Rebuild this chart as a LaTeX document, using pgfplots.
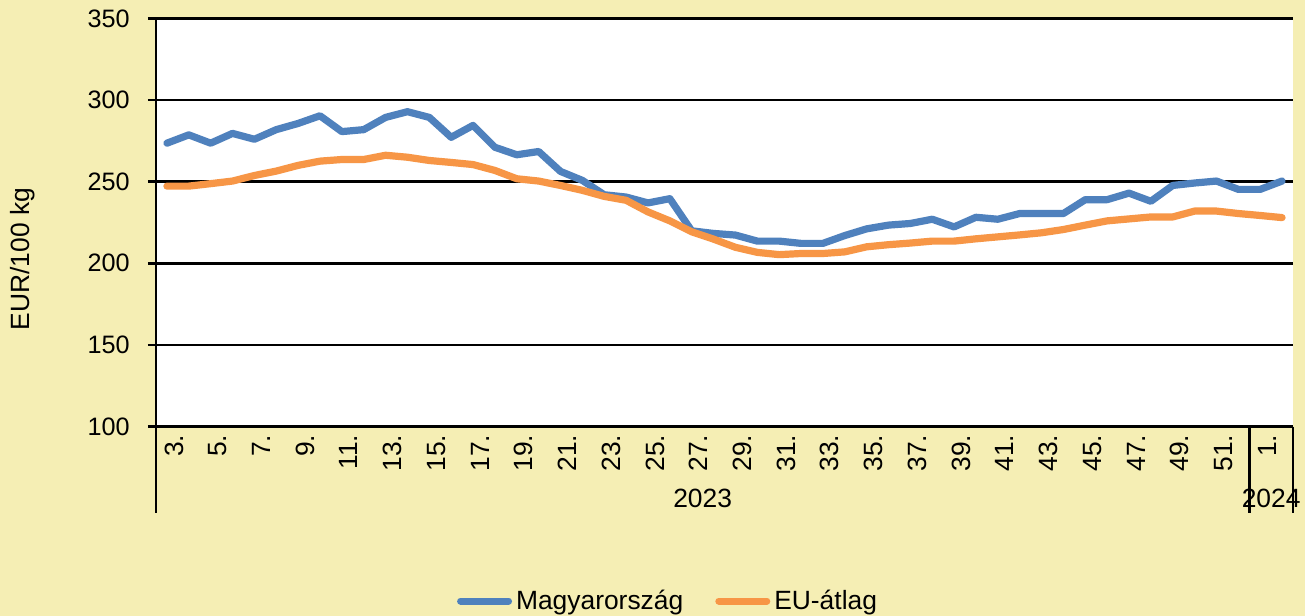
\documentclass[border=0pt]{standalone}
\usepackage{fontspec}
\setmainfont{Liberation Sans}
\usepackage{pgfplots}
\pgfplotsset{compat=1.18}
\usepackage{pgfplotstable}
\definecolor{bg}{RGB}{245,238,180}
\definecolor{hu}{RGB}{79,129,189}
\definecolor{eu}{RGB}{247,150,70}

\pgfplotstableread{
x hu eu
0 273.6 247.3
1 278.7 247.3
2 273.6 248.8
3 279.6 250.4
4 276.0 253.8
5 281.9 256.5
6 285.7 260.0
7 290.4 262.6
8 280.7 263.6
9 281.9 263.6
10 289.4 266.2
11 292.9 265.0
12 289.4 263.0
13 277.2 261.8
14 284.5 260.5
15 271.1 256.9
16 266.5 251.8
17 268.5 250.4
18 256.3 247.7
19 250.8 244.7
20 242.0 241.0
21 240.6 238.6
22 237.0 231.5
23 239.6 226.0
24 219.9 219.3
25 218.3 214.8
26 217.3 209.8
27 213.6 206.7
28 213.6 205.3
29 212.2 206.0
30 212.2 206.0
31 217.0 207.0
32 221.1 210.1
33 223.4 211.4
34 224.4 212.4
35 227.0 213.6
36 222.3 213.6
37 228.2 215.0
38 227.0 216.2
39 230.5 217.4
40 230.5 218.7
41 230.5 220.7
42 239.0 223.4
43 239.0 226.0
44 243.0 227.2
45 238.0 228.4
46 247.7 228.4
47 249.2 232.0
48 250.4 232.0
49 245.3 230.5
50 245.3 229.3
51 250.4 228.0
}\data

\begin{document}
\begin{tikzpicture}[font=\fontsize{13.2bp}{15.5bp}\selectfont]
\path[use as bounding box, fill=bg] (0,0) rectangle (652.5bp,308bp);
\node[rotate=90] at (11.5bp,178.5bp) {EUR/100 kg};
\begin{axis}[
  at={(78bp,94.75bp)}, anchor=south west,
  scale only axis, width=568.5bp, height=204bp,
  xmin=-0.5, xmax=51.5, ymin=100, ymax=350,
  ytick={100,150,...,350},
  xtick={0,2,...,50},
  xticklabels={3.,5.,7.,9.,11.,13.,15.,17.,19.,21.,23.,25.,27.,29.,31.,33.,35.,37.,39.,41.,43.,45.,47.,49.,51.,1.},
  axis x line*=bottom, axis y line*=left,
  axis line style={line width=1.3bp, -},
  ymajorgrids, grid style={black, line width=1.3bp},
  tick align=outside,
  major tick length=4bp,
  tick style={black, line width=1.3bp},
  xtick style={draw=none},
  xticklabel style={rotate=90, anchor=east, inner sep=0pt, yshift=-3.5bp},
  yticklabel style={anchor=east, inner sep=0pt, xshift=-9bp, font=\fontsize{12.6bp}{15bp}\selectfont},
  /pgf/number format/assume math mode=true,
  axis background/.style={fill=white},
  clip=false,
  legend style={at={(0.4512,-0.4277)}, anchor=center, draw=none, fill=none,
    legend columns=2, /tikz/every even column/.append style={column sep=14bp},
    font=\fontsize{13.2bp}{15.5bp}\selectfont, inner sep=0pt},
  legend image code/.code={\draw[#1, line width=3.5bp, line cap=round] (0bp,0bp) -- (24bp,0bp);},
]
\addplot[hu, line width=3.6bp, line join=round, line cap=round] table[x=x, y=hu] {\data};
\addlegendentry{Magyarország}
\addplot[eu, line width=3.6bp, line join=round, line cap=round] table[x=x, y=eu] {\data};
\addlegendentry{EU-átlag}
\draw[line width=1.3bp] (axis cs:-0.5,100) -- ++(0bp,-43.25bp);
\draw[line width=1.3bp] (axis cs:49.5,100) -- ++(0bp,-43.25bp);
\draw[line width=1.3bp] (axis cs:51.5,100) -- ++(0bp,-43.25bp);
\node at ([yshift=-35.75bp]axis cs:24.5,100) {2023};
\node at ([yshift=-35.75bp]axis cs:50.5,100) {2024};
\end{axis}
\end{tikzpicture}
\end{document}
